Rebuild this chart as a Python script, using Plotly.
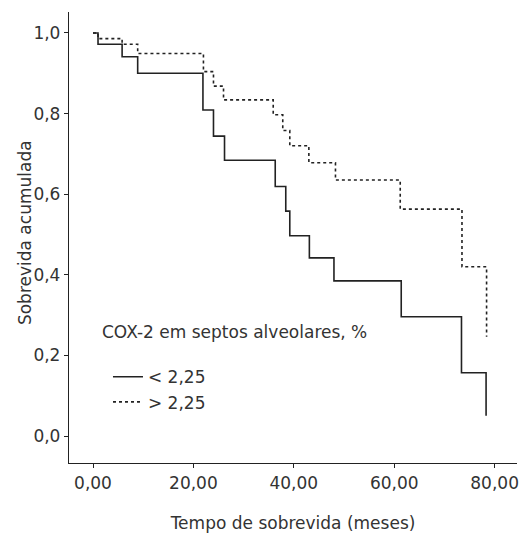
import plotly.graph_objects as go

# Kaplan-Meier steps
t_low = [0, 1.0, 5.8, 8.9, 21.9, 24.0, 26.2, 36.3, 38.4, 39.2, 43.1, 48.0, 61.4, 73.4, 78.3]
s_low = [1.0, 0.972, 0.941, 0.900, 0.809, 0.744, 0.684, 0.619, 0.558, 0.497, 0.442, 0.385, 0.296, 0.157, 0.050]

t_high = [0, 1.0, 5.8, 8.9, 22.0, 24.0, 26.0, 35.9, 37.8, 39.2, 43.0, 48.3, 61.2, 73.5, 78.4]
s_high = [1.0, 0.986, 0.972, 0.949, 0.904, 0.868, 0.834, 0.797, 0.758, 0.720, 0.678, 0.635, 0.563, 0.420, 0.246]

x_ticks = [0, 20, 40, 60, 80]
x_labels = ["0,00", "20,00", "40,00", "60,00", "80,00"]
y_ticks = [0, 0.2, 0.4, 0.6, 0.8, 1.0]
y_labels = ["0,0", "0,2", "0,4", "0,6", "0,8", "1,0"]

FONT = "DejaVu Sans"
FS = 17
TXT = "#333333"

fig = go.Figure()
fig.add_trace(go.Scatter(x=t_low, y=s_low, mode="lines", line_shape="hv",
                         line=dict(color="#222222", width=1.6), name="< 2,25"))
fig.add_trace(go.Scatter(x=t_high, y=s_high, mode="lines", line_shape="hv",
                         line=dict(color="#222222", width=1.6, dash="dot"), name="> 2,25"))

fig.add_annotation(text="COX-2 em septos alveolares, %", xref="paper", yref="paper",
                   x=0.069, y=0.29, xanchor="left", yanchor="middle", showarrow=False,
                   font=dict(family=FONT, size=FS, color=TXT))
fig.add_annotation(text="Sobrevida acumulada", xref="paper", yref="paper",
                   x=-0.098, y=0.51, xanchor="center", yanchor="middle", textangle=-90,
                   showarrow=False, font=dict(family=FONT, size=FS, color=TXT))

fig.update_layout(
    width=524, height=534,
    margin=dict(l=69, r=7, t=12, b=71),
    plot_bgcolor="white", paper_bgcolor="white",
    font=dict(family=FONT, size=FS, color=TXT),
    showlegend=True,
    legend=dict(x=0.087, y=0.23, xanchor="left", yanchor="top",
                bgcolor="rgba(0,0,0,0)", font=dict(family=FONT, size=FS, color=TXT),
                itemwidth=30, tracegroupgap=0),
    xaxis=dict(range=[-4.78, 84.46], tickvals=x_ticks, ticktext=x_labels, automargin=False,
               showgrid=False, zeroline=False, showline=True, linecolor="#222222", linewidth=1.3,
               ticks="outside", ticklen=4, tickcolor="#222222",
               title=dict(text="Tempo de sobrevida (meses)", standoff=25,
                          font=dict(family=FONT, size=FS, color=TXT))),
    yaxis=dict(range=[-0.067, 1.052], tickvals=y_ticks, ticktext=y_labels, automargin=False,
               showgrid=False, zeroline=False, showline=True, linecolor="#222222", linewidth=1.3,
               ticks="outside", ticklen=4, tickcolor="#222222"),
)

fig.write_html("out.html", config={"displayModeBar": False},
               post_script="document.body.style.margin='0';")
